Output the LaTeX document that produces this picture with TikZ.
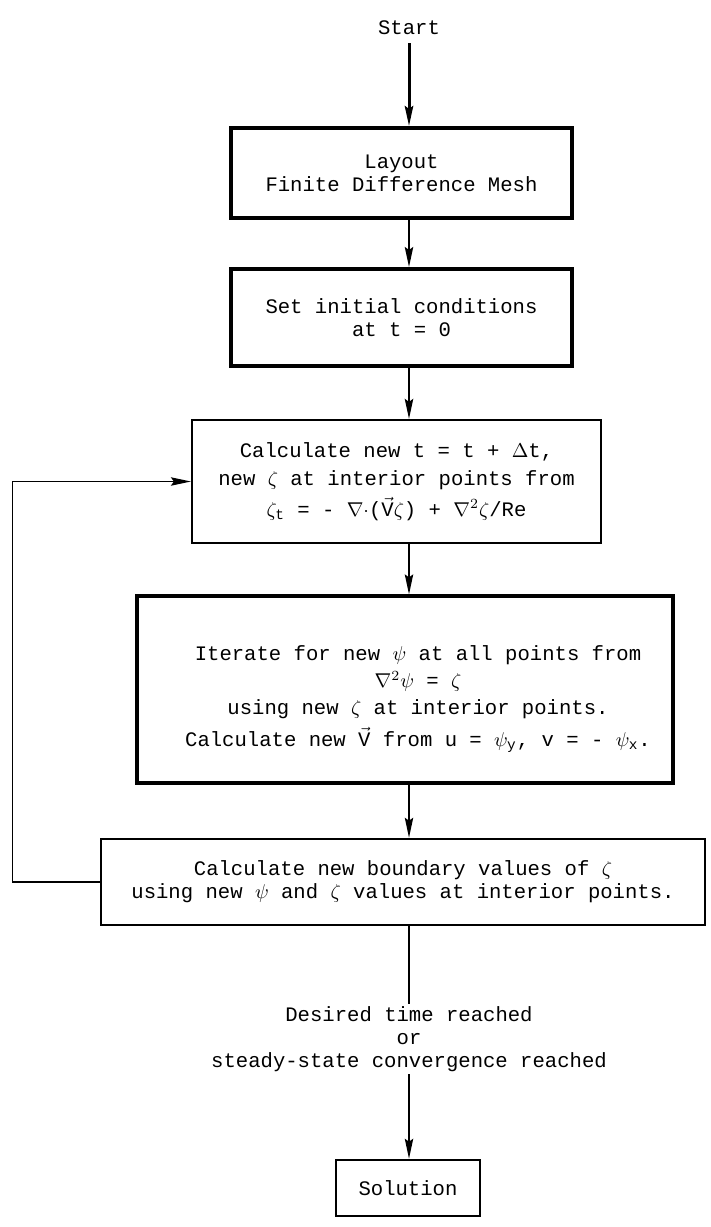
\documentclass[tikz,border=0pt]{standalone}
\usepackage{fontspec}
\usepackage{amsmath}
\setmonofont{Liberation Mono}
\usetikzlibrary{arrows.meta}

\begin{document}
\begin{tikzpicture}[x=0.5pt,y=-0.5pt,>={Stealth[length=10pt,width=4.2pt,inset=1.5pt]},
	every node/.style={font=\ttfamily\fontsize{10.3}{11.5}\selectfont,align=center},
	heavybox/.style={draw=black,line width=2pt,inner sep=0pt},
	plainbox/.style={draw=black,line width=1.1pt,inner sep=0pt}]

\useasboundingbox (0,0) rectangle (711,1227);

\node [inner sep=4pt] (n0) at (409, 28) {Start};

\node [heavybox,minimum width=170.5pt,minimum height=45pt] (b1) at (401.5, 173)
	{Layout\\Finite Difference Mesh};
\node [heavybox,minimum width=170.5pt,minimum height=48.5pt] (b2) at (401.5, 317.5)
	{Set initial conditions\\at t = 0};
\node [plainbox,minimum width=204.5pt,minimum height=61.5pt] (b3) at (396.5, 481.5)
	{Calculate new t = t + $\Delta$t,\\[2.5pt]
	 new $\zeta$ at interior points from\\[2.5pt]
	 $\zeta_{\text{t}}$ = - $\nabla\cdot$($\vec{\text{V}}\zeta$) + $\nabla^{2}\zeta$/Re};
\node [heavybox,line width=1.6pt,minimum width=268pt,minimum height=93.5pt] (b4) at (405, 689.5) {};
\node (t4) at (418, 699)
	{Iterate for new $\psi$ at all points from\\[2pt]
	 $\nabla^{2}\psi$ = $\zeta$\\[2pt]
	 using new $\zeta$ at interior points.\\[3pt]
	 Calculate new $\vec{\text{V}}$ from u = $\psi_{\text{y}}$, v = - $\psi_{\text{x}}$.};
\node [plainbox,line width=1.3pt,minimum width=302pt,minimum height=43pt] (b5) at (403, 882)
	{Calculate new boundary values of $\zeta$\\using new $\psi$ and $\zeta$ values at interior points.};

\node [inner sep=1pt] (goal) at (409, 1039)
	{Desired time reached\\or\\steady-state convergence reached};

\node [plainbox,line width=1.3pt,minimum width=72pt,minimum height=28pt] (sol) at (408, 1188) {Solution};

% main flow
\draw [->,line width=1.5pt] (n0) -- (b1.north -| n0);
\draw [->,line width=1pt] (b1.south -| n0) -- (b2.north -| n0);
\draw [->,line width=1pt] (b2.south -| n0) -- (b3.north -| n0);
\draw [->,line width=0.8pt] (b3.south -| n0) -- (b4.north -| n0);
\draw [->,line width=0.7pt] (b4.south -| n0) -- (b5.north -| n0);
\draw [line width=0.8pt] (b5.south -| n0) -- (goal);
\draw [->,line width=0.7pt] (goal) -- (sol.north -| n0);

% loop back
\draw [->,line width=0.7pt] (b5.west) -- ++(-87,0) |- (b3.west);

\end{tikzpicture}
\end{document}
